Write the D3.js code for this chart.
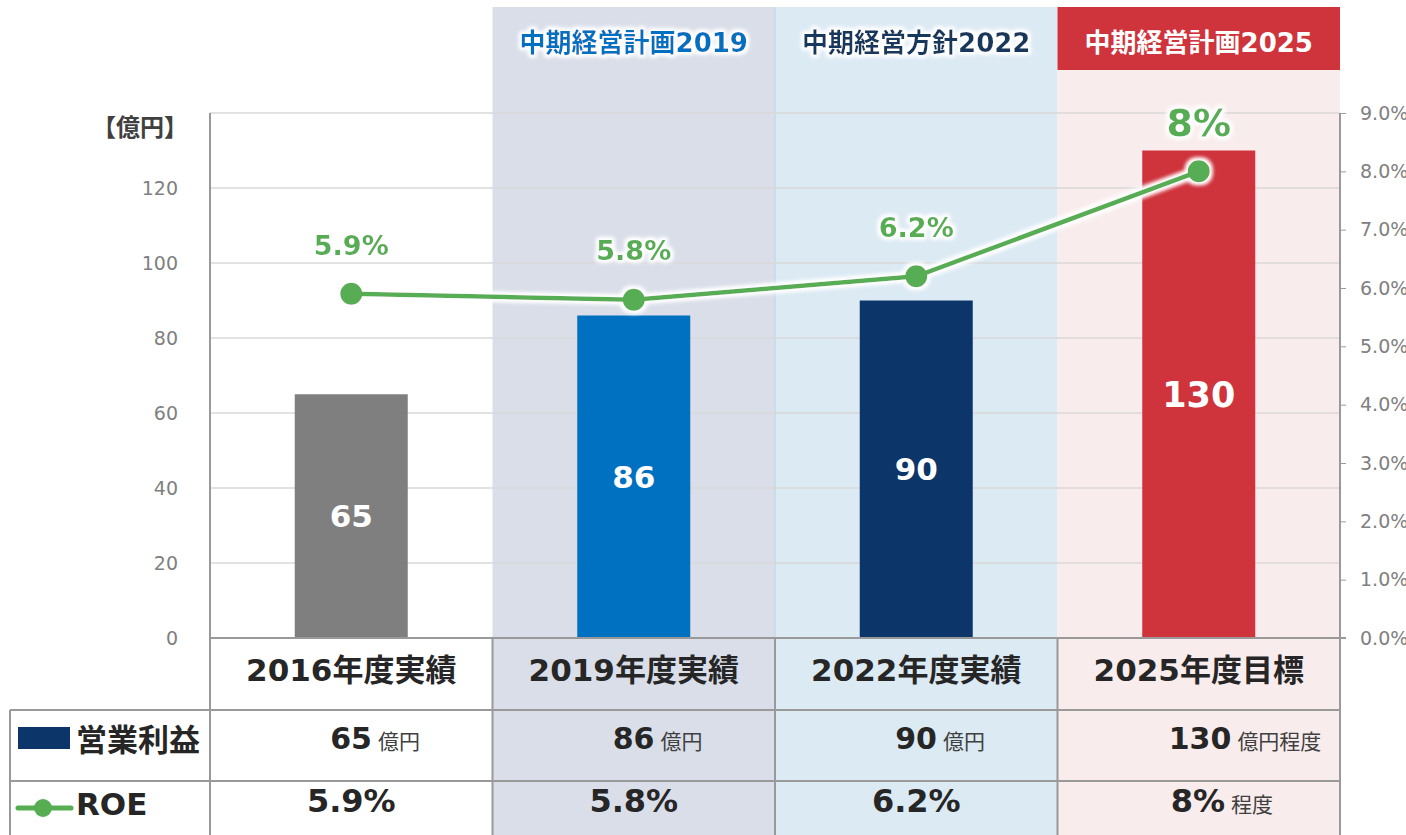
<!DOCTYPE html>
<html>
<head>
<meta charset="utf-8">
<script src="https://cdn.jsdelivr.net/npm/d3@7"></script>
<style>
  body { margin: 0; background: #fff; }
  svg text { font-family: "DejaVu Sans", "Noto Sans CJK JP", sans-serif; }
</style>
</head>
<body>
<div id="container"></div>
<script>
// data
var categories = ["2016年度実績", "2019年度実績", "2022年度実績", "2025年度目標"];
var planNames = ["", "中期経営計画2019", "中期経営方針2022", "中期経営計画2025"];
var profit = [65, 86, 90, 130];
var profitUnits = ["億円", "億円", "億円", "億円程度"];
var roe = [5.9, 5.8, 6.2, 8];
var roeLabels = ["5.9%", "5.8%", "6.2%", "8%"];
var roeUnits = ["", "", "", "程度"];
var leftTicks = [0, 20, 40, 60, 80, 100, 120];
var rightTicks = [0, 1, 2, 3, 4, 5, 6, 7, 8, 9];

// dimensions
var width = 1406, height = 835;
var plotLeft = 210, plotRight = 1340, plotTop = 113, base = 638;

var barColors = ["#7f7f7f", "#0070c0", "#0c3669", "#cf333c"];
var colBg = ["#ffffff", "#d9dee9", "#dceaf4", "#f9ecec"];
var planColors = ["#000", "#0070c0", "#17375e", "#ffffff"];
var green = "#57ad52";
var dark = "#262626";

var svg = d3.select("#container").append("svg")
  .attr("width", width)
  .attr("height", height);

// white halo used on labels and the line
var defs = svg.append("defs");
var glow = defs.append("filter").attr("id", "glow")
  .attr("x", "-20%").attr("y", "-40%").attr("width", "140%").attr("height", "180%");
glow.append("feMorphology").attr("in", "SourceAlpha").attr("operator", "dilate").attr("radius", 2).attr("result", "d");
glow.append("feGaussianBlur").attr("in", "d").attr("stdDeviation", 2).attr("result", "b");
glow.append("feFlood").attr("flood-color", "#fff").attr("result", "w");
glow.append("feComposite").attr("in", "w").attr("in2", "b").attr("operator", "in").attr("result", "halo");
var merge = glow.append("feMerge");
merge.append("feMergeNode").attr("in", "halo");
merge.append("feMergeNode").attr("in", "halo");
merge.append("feMergeNode").attr("in", "SourceGraphic");

// scales
var x = d3.scaleBand().domain(categories).range([plotLeft, plotRight]).padding(0);
var y = d3.scaleLinear().domain([0, 140]).range([base, plotTop]);
var yR = d3.scaleLinear().domain([0, 9]).range([base, plotTop]);
var bw = x.bandwidth() * 0.4;
function cx(i) { return x(categories[i]) + x.bandwidth() / 2; }

// column backgrounds
svg.selectAll("rect.bg")
  .data(categories)
  .enter()
  .append("rect")
  .attr("class", "bg")
  .attr("x", function(d) { return x(d); })
  .attr("y", 7)
  .attr("width", x.bandwidth())
  .attr("height", height - 7)
  .attr("fill", function(d, i) { return colBg[i]; });

// red header box on the last plan
svg.append("rect")
  .attr("x", x(categories[3]))
  .attr("y", 7)
  .attr("width", x.bandwidth())
  .attr("height", 63)
  .attr("fill", barColors[3]);

svg.append("line")
  .attr("x1", x(categories[2])).attr("x2", x(categories[2]))
  .attr("y1", 7).attr("y2", base)
  .attr("stroke", "#bcd2e6").attr("stroke-width", 1);

// plan headers
svg.selectAll("text.plan")
  .data(planNames)
  .enter()
  .append("text")
  .attr("class", "plan")
  .attr("x", function(d, i) { return cx(i); })
  .attr("y", 43)
  .attr("dy", "0.36em")
  .attr("text-anchor", "middle")
  .attr("font-size", 26)
  .attr("font-weight", "bold")
  .attr("fill", function(d, i) { return planColors[i]; })
  .attr("filter", function(d, i) { return i < 3 ? "url(#glow)" : null; })
  .text(function(d) { return d; });

// gridlines
svg.selectAll("line.grid")
  .data(leftTicks.slice(1).concat([140]))
  .enter()
  .append("line")
  .attr("class", "grid")
  .attr("x1", plotLeft).attr("x2", plotRight)
  .attr("y1", function(d) { return y(d); })
  .attr("y2", function(d) { return y(d); })
  .attr("stroke", "#d9d9d9").attr("stroke-width", 1.5);

// left axis labels
svg.selectAll("text.lt")
  .data(leftTicks)
  .enter()
  .append("text")
  .attr("class", "lt")
  .attr("x", 178)
  .attr("y", function(d) { return y(d); })
  .attr("dy", "0.35em")
  .attr("text-anchor", "end")
  .attr("font-size", 19)
  .attr("fill", "#808080")
  .text(function(d) { return d; });

svg.append("text")
  .attr("x", 188).attr("y", 128)
  .attr("dy", "0.35em")
  .attr("text-anchor", "end")
  .attr("font-size", 24)
  .attr("font-weight", "bold")
  .attr("fill", "#404040")
  .text("【億円】");

// right axis
var rAxis = svg.append("g")
  .attr("transform", "translate(" + plotRight + ",0)")
  .call(d3.axisRight(yR).tickValues(rightTicks).tickSize(6).tickPadding(14)
    .tickFormat(function(d) { return d.toFixed(1) + "%"; }));
rAxis.select(".domain").remove();
rAxis.selectAll("line").attr("stroke", "#9a9a9a");
rAxis.selectAll("text")
  .attr("font-size", 19)
  .attr("fill", "#808080")
  .style("font-family", "'DejaVu Sans', sans-serif");

// bars
svg.selectAll("rect.bar")
  .data(profit)
  .enter()
  .append("rect")
  .attr("class", "bar")
  .attr("x", function(d, i) { return cx(i) - bw / 2; })
  .attr("y", function(d) { return y(d); })
  .attr("width", bw)
  .attr("height", function(d) { return base - y(d); })
  .attr("fill", function(d, i) { return barColors[i]; });

svg.selectAll("text.barlab")
  .data(profit)
  .enter()
  .append("text")
  .attr("class", "barlab")
  .attr("x", function(d, i) { return cx(i); })
  .attr("y", function(d) { return (y(d) + base) / 2; })
  .attr("dy", "0.36em")
  .attr("text-anchor", "middle")
  .attr("font-size", function(d, i) { return i == 3 ? 35 : 31; })
  .attr("font-weight", "bold")
  .attr("fill", "#fff")
  .text(function(d) { return d; });

// ROE line
var line = d3.line()
  .x(function(d, i) { return cx(i); })
  .y(function(d) { return yR(d); });

var lineG = svg.append("g").attr("filter", "url(#glow)");
lineG.append("path")
  .datum(roe)
  .attr("d", line)
  .attr("fill", "none")
  .attr("stroke", green)
  .attr("stroke-width", 4.5);
lineG.selectAll("circle")
  .data(roe)
  .enter()
  .append("circle")
  .attr("cx", function(d, i) { return cx(i); })
  .attr("cy", function(d) { return yR(d); })
  .attr("r", 11)
  .attr("fill", green);

svg.selectAll("text.roelab")
  .data(roe)
  .enter()
  .append("text")
  .attr("class", "roelab")
  .attr("x", function(d, i) { return cx(i); })
  .attr("y", function(d) { return yR(d) - 49; })
  .attr("dy", "0.36em")
  .attr("text-anchor", "middle")
  .attr("font-size", function(d, i) { return i == 3 ? 38 : 27; })
  .attr("font-weight", "bold")
  .attr("fill", green)
  .attr("filter", "url(#glow)")
  .text(function(d, i) { return roeLabels[i]; });

// table
var rows = [710, 781];
var tableLines = svg.append("g").attr("stroke", "#999").attr("stroke-width", 2);
tableLines.append("line").attr("x1", plotLeft).attr("x2", plotRight + 6).attr("y1", base).attr("y2", base);
rows.forEach(function(r) {
  tableLines.append("line").attr("x1", 10).attr("x2", plotRight).attr("y1", r).attr("y2", r);
});
tableLines.append("line").attr("x1", 10).attr("x2", 10).attr("y1", 710).attr("y2", height);
tableLines.append("line").attr("x1", plotLeft).attr("x2", plotLeft).attr("y1", plotTop).attr("y2", height);
tableLines.append("line").attr("x1", plotRight).attr("x2", plotRight).attr("y1", plotTop).attr("y2", height);
categories.slice(1).forEach(function(c) {
  tableLines.append("line").attr("x1", x(c)).attr("x2", x(c)).attr("y1", base).attr("y2", height);
});

svg.selectAll("text.cat")
  .data(categories)
  .enter()
  .append("text")
  .attr("class", "cat")
  .attr("x", function(d, i) { return cx(i); })
  .attr("y", 670)
  .attr("dy", "0.36em")
  .attr("text-anchor", "middle")
  .attr("font-size", 31)
  .attr("font-weight", "bold")
  .attr("fill", dark)
  .text(function(d) { return d; });

// profit row
var pRow = svg.selectAll("text.prow")
  .data(profit)
  .enter()
  .append("text")
  .attr("class", "prow")
  .attr("x", function(d, i) { return cx(i) - 21 - (String(d).length - 2) * 9; })
  .attr("y", 743)
  .attr("dy", "0.36em")
  .attr("fill", dark);
pRow.append("tspan")
  .attr("font-size", 30)
  .attr("font-weight", "bold")
  .text(function(d) { return d; });
pRow.append("tspan")
  .attr("dx", 6)
  .attr("font-size", 21)
  .attr("fill", "#404040")
  .text(function(d, i) { return profitUnits[i]; });

// ROE row
var rRow = svg.selectAll("text.rrow")
  .data(roe)
  .enter()
  .append("text")
  .attr("class", "rrow")
  .attr("x", function(d, i) { return cx(i) - (roeUnits[i] ? 28 : 0); })
  .attr("y", 806)
  .attr("dy", "0.36em")
  .attr("text-anchor", function(d, i) { return roeUnits[i] ? "start" : "middle"; })
  .attr("fill", dark);
rRow.append("tspan")
  .attr("font-size", 32)
  .attr("font-weight", "bold")
  .text(function(d, i) { return roeLabels[i]; });
rRow.append("tspan")
  .attr("dx", 6)
  .attr("font-size", 21)
  .attr("fill", "#404040")
  .text(function(d, i) { return roeUnits[i]; });

// legend cells
svg.append("rect")
  .attr("x", 18).attr("y", 727).attr("width", 52).attr("height", 22)
  .attr("fill", barColors[2]);
svg.append("text")
  .attr("x", 76).attr("y", 740).attr("dy", "0.36em")
  .attr("font-size", 31).attr("font-weight", "bold").attr("fill", dark)
  .text("営業利益");
svg.append("line")
  .attr("x1", 18).attr("x2", 71).attr("y1", 808).attr("y2", 808)
  .attr("stroke", green).attr("stroke-width", 5).attr("stroke-linecap", "round");
svg.append("circle")
  .attr("cx", 43).attr("cy", 808).attr("r", 9).attr("fill", green);
svg.append("text")
  .attr("x", 76).attr("y", 804).attr("dy", "0.36em")
  .attr("font-size", 31).attr("font-weight", "bold").attr("fill", dark)
  .text("ROE");
</script>
</body>
</html>
